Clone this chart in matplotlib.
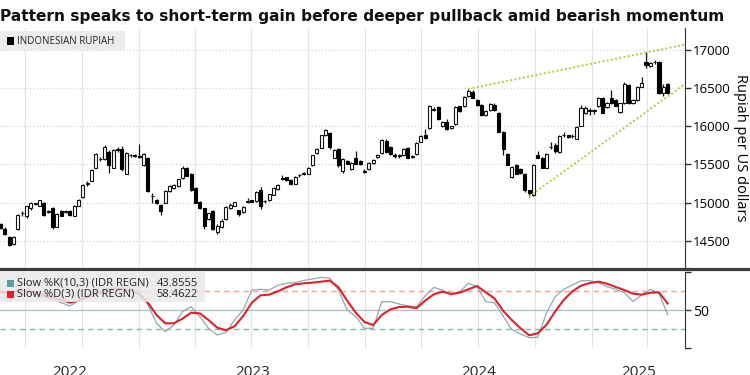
import matplotlib
matplotlib.use('Agg')
import matplotlib.pyplot as plt
import matplotlib.transforms as mtransforms
from matplotlib.lines import Line2D
from matplotlib.patches import Rectangle
import pandas as pd

plt.rcParams['font.family'] = ['Open Sans', 'DejaVu Sans']

title = 'Pattern speaks to short-term gain before deeper pullback amid bearish momentum'
series_name = 'INDONESIAN RUPIAH'
y_label = 'Rupiah per US dollars'

# weekly candles, USD/IDR
weeks = pd.date_range('2022-05-22', periods=155, freq='7D')

opens = [14720, 14650, 14545, 14460, 14650, 14860, 14820, 14925, 14985, 14960,
         14990, 14880, 14925, 14685, 14890, 14880, 14890, 14830, 14960, 15070,
         15250, 15290, 15460, 15570, 15570, 15670, 15460, 15690, 15700, 15380,
         15620, 15620, 15610, 15490, 15590, 15090, 15035, 14970, 15000, 15150,
         15190, 15220, 15320, 15450, 15380, 15190, 15005, 14925, 14780, 14890,
         14620, 14680, 14780, 14925, 14960, 14900, 14880, 15010, 15030, 15020,
         15160, 15020, 15030, 15105, 15180, 15320, 15330, 15300, 15250, 15360,
         15380, 15380, 15490, 15650, 15720, 15880, 15910, 15590, 15700, 15420,
         15550, 15440, 15590, 15550, 15410, 15440, 15520,
         15600, 15650, 15810, 15730, 15615, 15610, 15620, 15710, 15600, 15640, 15800, 15880,
         15980, 16220, 16250, 16000, 16060, 15975, 16030, 16260, 16260, 16395, 16455, 16350,
         16280, 16150, 16210, 16285, 16180, 15930, 15640, 15330, 15490, 15440, 15380, 15160, 15100,
         15620, 15590, 15460, 15725, 15760, 15660, 15880, 15880, 15870, 15840, 16010, 16170,
         16200, 16200, 16260, 16370, 16250, 16370, 16350, 16190, 16300, 16545, 16300, 16340,
         16520, 16840, 16790, 16840, 16840, 16430, 16550]
highs = [14740, 14680, 14560, 14560, 14850, 14890, 14960, 15010, 15000, 15040,
         15010, 14900, 14940, 14860, 14900, 14900, 14900, 14970, 15045, 15240,
         15290, 15440, 15650, 15600, 15755, 15690, 15700, 15730, 15740, 15660,
         15640, 15640, 15770, 15650, 15600, 15120, 15050, 14980, 15160, 15230,
         15240, 15310, 15480, 15470, 15390, 15200, 15020, 14930, 14870, 14900,
         14720, 14780, 14960, 14990, 15010, 14910, 14960, 15060, 15040, 15150,
         15210, 15040, 15115, 15200, 15240, 15360, 15340, 15310, 15350, 15380,
         15400, 15470, 15630, 15720, 15890, 15960, 15920, 15700, 15710, 15580,
         15560, 15530, 15680, 15560, 15440, 15530, 15570,
         15640, 15830, 15830, 15740, 15650, 15640, 15710, 15730, 15630, 15790, 15880, 15960,
         16280, 16250, 16260, 16070, 16100, 16010, 16260, 16270, 16400, 16490, 16470, 16360,
         16290, 16210, 16300, 16300, 16190, 15940, 15650, 15480, 15500, 15450, 15390, 15170, 15500,
         15680, 15600, 15650, 15790, 15780, 15880, 15920, 15890, 15900, 16000, 16280, 16260,
         16240, 16230, 16380, 16380, 16320, 16470, 16360, 16310, 16580, 16560, 16360, 16530,
         16640, 16970, 16840, 16870, 16860, 16560, 16570]
lows = [14650, 14570, 14430, 14440, 14640, 14830, 14800, 14910, 14970, 14950,
        14830, 14860, 14660, 14680, 14820, 14860, 14830, 14820, 14950, 15060,
        15220, 15280, 15450, 15540, 15560, 15390, 15450, 15670, 15420, 15370,
        15600, 15600, 15590, 15480, 15140, 14990, 14980, 14840, 14990, 15140,
        15180, 15210, 15310, 15350, 15150, 14990, 14920, 14650, 14770, 14640,
        14590, 14670, 14770, 14920, 14950, 14820, 14870, 14990, 15010, 15010,
        14920, 15000, 15020, 15095, 15170, 15300, 15290, 15230, 15240, 15340,
        15360, 15370, 15480, 15640, 15710, 15870, 15700, 15580, 15470, 15390,
        15500, 15430, 15500, 15490, 15390, 15430, 15510,
        15590, 15640, 15650, 15630, 15590, 15590, 15610, 15580, 15590, 15630, 15790, 15840,
        15970, 16200, 16080, 15990, 15950, 15960, 16020, 16190, 16250, 16390, 16370, 16270,
        16140, 16140, 16200, 16200, 15920, 15620, 15490, 15320, 15370, 15380, 15140, 15080, 15090,
        15580, 15450, 15450, 15700, 15650, 15650, 15860, 15850, 15850, 15830, 16000, 16160,
        16150, 16160, 16250, 16170, 16240, 16290, 16260, 16180, 16290, 16290, 16290, 16330,
        16510, 16760, 16780, 16820, 16420, 16400, 16420]
closes = [14670, 14590, 14450, 14550, 14840, 14865, 14950, 15000, 14990, 15030,
          14840, 14885, 14675, 14850, 14825, 14885, 14835, 14960, 15040, 15230,
          15255, 15430, 15640, 15575, 15730, 15490, 15690, 15695, 15440, 15650,
          15625, 15615, 15600, 15640, 15150, 15085, 14990, 14895, 15150, 15220,
          15230, 15305, 15460, 15355, 15160, 15000, 14925, 14700, 14860, 14660,
          14700, 14765, 14940, 14970, 15005, 14845, 14945, 15020, 15015, 15140,
          14960, 15025, 15110, 15190, 15230, 15315, 15300, 15245, 15340, 15365,
          15385, 15460, 15620, 15700, 15880, 15950, 15730, 15690, 15490, 15570,
          15505, 15520, 15510, 15500, 15405, 15520, 15560,
          15630, 15820, 15670, 15640, 15610, 15615, 15700, 15590, 15615, 15780, 15870, 15845,
          16270, 16225, 16090, 16060, 15960, 16005, 16250, 16200, 16390, 16460, 16375, 16280,
          16150, 16200, 16290, 16210, 15930, 15700, 15495, 15470, 15380, 15390, 15160, 15120, 15490,
          15590, 15460, 15640, 15730, 15680, 15870, 15885, 15855, 15875, 15990, 16240, 16245,
          16205, 16205, 16370, 16180, 16310, 16300, 16270, 16300, 16560, 16300, 16350, 16520,
          16570, 16800, 16830, 16845, 16430, 16520, 16430]

# rising wedge lines
wedge_upper_x = ['2024-06-16', '2025-06-01']
wedge_upper_y = [16490, 17070]
wedge_lower_x = ['2024-09-22', '2025-06-01']
wedge_lower_y = [15080, 16555]

# slow stochastic, read every second week
slow_k = [67.5, 62.3, 71.9, 72.8, 71.1, 67.5, 64.0, 59.6, 55.3, 62.3,
          69.7, 74.1, 77.2, 79.8, 80.7, 78.9, 74.1, 56.6, 32.5, 21.5,
          30.3, 47.8, 54.4, 41.2, 25.9, 17.1, 20.2, 36.8, 50.0, 76.3,
          77.2, 76.3, 82.5, 85.1, 86.0, 89.0, 90.8, 93.0, 91.7, 76.3,
          50.0, 41.2, 25.9, 25.9, 61.0, 61.0, 57.9, 55.3, 54.4, 68.4,
          79.8, 76.3, 69.7, 74.1, 85.1, 80.7, 61.0, 59.6, 42.1, 24.6,
          18.4, 13.6, 14.0, 45.6, 67.5, 77.2, 82.9, 88.6, 88.6, 86.0,
          80.7, 77.2, 72.8, 61.0, 69.7, 77.2, 71.9, 43.9]
slow_d = [74.1, 72.4, 75.4, 75.4, 73.7, 69.7, 66.2, 63.2, 59.6, 62.3,
          66.7, 70.6, 74.6, 76.8, 78.1, 75.4, 70.6, 59.6, 43.4, 32.5,
          32.5, 38.6, 46.5, 45.6, 36.8, 26.8, 23.2, 28.5, 42.1, 59.6,
          69.3, 70.2, 74.6, 79.8, 83.8, 85.1, 86.0, 87.3, 88.6, 79.8,
          62.3, 46.5, 34.2, 30.3, 43.4, 50.9, 53.9, 54.4, 52.2, 62.3,
          70.6, 74.1, 71.1, 72.8, 77.2, 81.6, 73.2, 65.4, 49.1, 36.8,
          26.3, 16.7, 19.3, 30.3, 47.8, 63.2, 74.6, 82.0, 85.5, 87.3,
          84.6, 80.3, 76.3, 71.5, 70.2, 72.8, 73.2, 58.5]
k_label = 'Slow %K(10,3) (IDR REGN)'
d_label = 'Slow %D(3) (IDR REGN)'
k_last = '43.8555'
d_last = '58.4622'

years = ['2022', '2023', '2024', '2025']


W, H = 750, 375
def box(x0, y0, x1, y1):
    return [x0 / W, 1 - y1 / H, (x1 - x0) / W, (y1 - y0) / H]

fig = plt.figure(figsize=(7.5, 3.75), dpi=100)
ax = fig.add_axes(box(0, 28, 685, 268))
ax2 = fig.add_axes(box(0, 272, 685, 348), sharex=ax)

xmin = weeks[0] - pd.Timedelta(days=1)
xmax = pd.Timestamp('2025-06-01')
quarters = pd.date_range('2022-07-01', '2025-04-01', freq='QS')

# candles
o = pd.Series(opens, index=weeks)
c = pd.Series(closes, index=weeks)
up = c >= o
body_lo = pd.concat([o, c], axis=1).min(axis=1)
body_h = (c - o).abs().clip(lower=8)
ax.vlines(weeks, lows, highs, color='#111111', lw=0.9, zorder=3)
ax.bar(weeks[up], body_h[up], bottom=body_lo[up], width=5.0,
       color='white', edgecolor='#111111', linewidth=0.8, zorder=4)
ax.bar(weeks[~up], body_h[~up], bottom=body_lo[~up], width=5.0,
       color='#000000', edgecolor='#000000', linewidth=0.8, zorder=4)

ax.plot(pd.to_datetime(wedge_upper_x), wedge_upper_y, color='#a5d13b', lw=1.4,
        ls=(0, (1, 1.2)), zorder=5, clip_on=False)
ax.plot(pd.to_datetime(wedge_lower_x), wedge_lower_y, color='#a5d13b', lw=1.4,
        ls=(0, (1, 1.2)), zorder=5, clip_on=False)

ax.set_xlim(xmin, xmax)
ax.set_ylim(14144, 17288)
for q in quarters:
    ax.axvline(q, color='#e3e3e3', lw=0.8, zorder=0)
    ax2.axvline(q, color='#e3e3e3', lw=0.8, zorder=0)
ax.set_yticks([14500, 15000, 15500, 16000, 16500, 17000])
ax.yaxis.grid(True, color='#d6d6d6', ls=':', lw=0.9)
ax.set_axisbelow(True)
ax.yaxis.tick_right()
ax.yaxis.set_label_position('right')
ax.tick_params(axis='y', direction='out', length=4, width=1, color='#333333',
               labelsize=9.5, pad=1.5)
ax.tick_params(axis='x', bottom=False, labelbottom=False)
ax.set_ylabel(y_label, rotation=270, fontsize=10.5, labelpad=13)
for s in ['left', 'top', 'bottom']:
    ax.spines[s].set_visible(False)
ax.spines['right'].set_color('#333333')

# oscillator
osc_x = weeks[::2]
ax2.axhline(50, color='#a8c2c2', lw=0.9, zorder=1)
ax2.axhline(75, color='#f0a48c', lw=1.0, ls=(0, (4, 3)), zorder=1)
ax2.axhline(25, color='#8fb89a', lw=1.0, ls=(0, (4, 3)), zorder=1)
ax2.axhline(0, color='#d6d6d6', lw=0.9, ls=':', zorder=1)
ax2.plot(osc_x, slow_k, color='#86aeb2', lw=0.9, zorder=3)
ax2.plot(osc_x, slow_d, color='#e0202a', lw=1.5, zorder=4)
ax2.set_ylim(0, 100)
ax2.yaxis.tick_right()
ax2.set_yticks([0, 50, 100])
ax2.set_yticklabels(['', '50', ''])
ax2.tick_params(axis='y', direction='out', length=4, width=1, color='#333333',
                labelsize=10, pad=1.5)
ax2.tick_params(axis='x', bottom=False, labelbottom=False)
for s in ['left', 'top', 'bottom']:
    ax2.spines[s].set_visible(False)
ax2.spines['right'].set_color('#333333')

# year labels centred in each visible year (cropped at the bottom as in the source)
trans = mtransforms.blended_transform_factory(ax2.transData, ax2.transAxes)
edges = [xmin] + [pd.Timestamp(y + '-01-01') for y in years[1:]] + [xmax]
for i, y in enumerate(years):
    mid = edges[i] + (edges[i + 1] - edges[i]) / 2
    ax2.text(mid, -0.22, y, transform=trans, ha='center', va='top', fontsize=11,
             color='#222222', clip_on=False)

# separator bar
fig.add_artist(Line2D([0, 1], [1 - 268.5 / H] * 2, transform=fig.transFigure,
                      color='#3c3c3c', lw=2.3, zorder=5))

# title
fig.text(0, 1 - 17 / H, title, fontsize=11.1, fontweight='bold', family='DejaVu Sans',
         ha='left', va='center', color='#111111')

# price legend
fig.add_artist(Rectangle((0, 1 - 50 / H), 125 / W, 19 / H, transform=fig.transFigure,
                         facecolor='#ececec', edgecolor='none', zorder=6))
fig.add_artist(Rectangle((7 / W, 1 - 45 / H), 7 / W, 7.5 / H, transform=fig.transFigure,
                         facecolor='#000000', edgecolor='none', zorder=7))
fig.text(17 / W, 1 - 41 / H, series_name, fontsize=7, va='center', ha='left',
         color='#222222', zorder=8)

# oscillator legend
fig.add_artist(Rectangle((0, 1 - 302 / H), 205 / W, 31 / H, transform=fig.transFigure,
                         facecolor='#e9e9e9', edgecolor='none', alpha=0.85, zorder=6))
for yy, col, lab, val in [(283, '#5f9ea0', k_label, k_last), (294.5, '#e0202a', d_label, d_last)]:
    fig.add_artist(Rectangle((7 / W, 1 - (yy + 3.5) / H), 7 / W, 7 / H,
                             transform=fig.transFigure, facecolor=col, edgecolor='none', zorder=7))
    fig.text(17 / W, 1 - yy / H, lab, fontsize=8, va='center', ha='left', color='#222222', zorder=8)
    fig.text(198 / W, 1 - yy / H, val, fontsize=8, va='center', ha='right', color='#222222', zorder=8)

plt.savefig('out.png', dpi=100)
